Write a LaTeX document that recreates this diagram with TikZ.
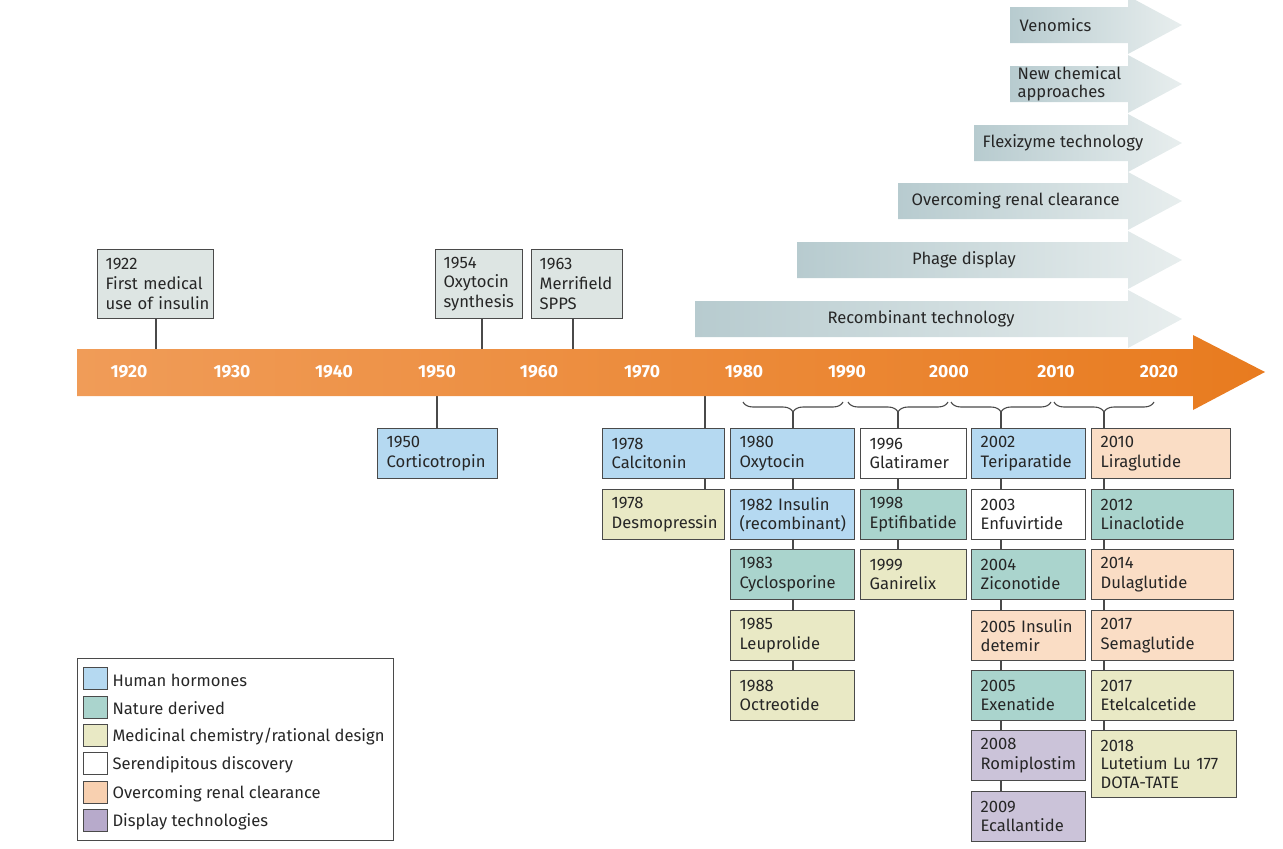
\documentclass[tikz,border=0pt]{standalone}
\usepackage{fontspec}
\setmainfont{Fira Sans}
\usetikzlibrary{decorations.pathreplacing,backgrounds}
\definecolor{hb}{HTML}{B5D9F1}
\definecolor{nd}{HTML}{AAD4CD}
\definecolor{mc}{HTML}{E9E9C5}
\definecolor{orc}{HTML}{FADDC5}
\definecolor{orcL}{HTML}{F8D0B0}
\definecolor{dt}{HTML}{CBC3D9}
\definecolor{dtL}{HTML}{B7AACB}
\definecolor{topbox}{HTML}{DDE5E3}
\definecolor{boxline}{HTML}{4A4A4A}
\definecolor{barL}{HTML}{F09C58}
\definecolor{barR}{HTML}{E87B1F}
\definecolor{tecL}{HTML}{B7CBCF}
\definecolor{tecR}{HTML}{E8EEEE}
\newcommand{\lbl}{\fontsize{16.6}{19.7}\selectfont}
\begin{document}
\begin{tikzpicture}[x=1pt,y=-1pt,
  bx/.style={draw=boxline, line width=1.2pt, anchor=north west, inner xsep=9pt, inner ysep=0pt,
    align=left, font=\lbl, minimum height=50pt, text=black!85},
  tw/.style={text width=#1},
  conn/.style={draw=boxline, line width=1.1pt},
  brc/.style={draw=boxline, line width=1.1pt, decorate, decoration={brace, mirror, amplitude=10pt}},
  yr/.style={text=white, font=\fontsize{17.5}{19}\selectfont\bfseries},
  tec/.style={font=\lbl, text=black!85, align=left},
  leg/.style={draw=boxline, line width=1.1pt, anchor=north west, minimum width=24pt, minimum height=22pt, inner sep=0pt},
  legt/.style={anchor=west, font=\lbl, text=black!85}
]
\useasboundingbox (0,0) rectangle (1283,849);

% technology arrows
\foreach \xl/\yc in {1010/25, 1010/84, 974/143, 898/201, 797/260, 695/319}{
  \shade[left color=tecL, right color=tecR]
    (\xl,\yc-18) -- (1128,\yc-18) -- (1128,\yc-29) -- (1182,\yc) -- (1128,\yc+29) -- (1128,\yc+18) -- (\xl,\yc+18) -- cycle;
}
\node[tec, anchor=west] (venom) at (1016,25) {Venomics};
\node[tec, anchor=west, font=\fontsize{16.6}{17.5}\selectfont] (newchem) at (1014,84) {New chemical\\approaches};
\node[tec, anchor=west] (flexi) at (979,143) {Flexizyme technology};
\node[tec, anchor=west] (renal) at (908,201) {Overcoming renal clearance};
\node[tec] (phage) at (964,260) {Phage display};
\node[tec] (recomb) at (921,319) {Recombinant technology};

% main timeline
\shade[left color=barL, right color=barR]
  (77,349) -- (1193,349) -- (1193,335) -- (1265,372) -- (1193,410) -- (1193,396) -- (77,396) -- cycle;
\coordinate (barT) at (0,349);
\coordinate (barB) at (0,396);
\foreach \yy/\xx in {1920/129,1930/232,1940/334,1950/437,1960/539,1970/642,1980/744,1990/847,2000/949,2010/1056,2020/1159}{
  \node[yr] (y\yy) at (\xx,372) {\yy};
}

% top boxes
\node[bx, fill=topbox, tw=100pt, inner xsep=8pt, minimum height=69pt] (t22) at (97,249) {1922\\First medical\\\mbox{use of insulin}};
\node[bx, fill=topbox, tw=71pt, inner xsep=8pt, minimum height=69pt] (t54) at (435,249) {1954\\Oxytocin\\\mbox{synthesis}};
\node[bx, fill=topbox, tw=75pt, inner xsep=8pt, minimum height=69pt] (t63) at (531,249) {1963\\Merrifield\\SPPS};
\coordinate (l22) at (156,349);
\coordinate (l54) at (482,349);
\coordinate (l63) at (573,349);
\draw[conn] (l22) -- (l22 |- t22.south);
\draw[conn] (l54) -- (l54 |- t54.south);
\draw[conn] (l63) -- (l63 |- t63.south);

% bottom boxes
\node[bx, fill=hb, tw=102pt] (b50) at (377,428) {1950\\Corticotropin};
\node[bx, fill=hb, tw=104pt] (b78a) at (602,428) {1978\\Calcitonin};
\node[bx, fill=mc, tw=104pt] (b78b) at (602,489) {1978\\Desmopressin};

\node[bx, fill=hb, tw=106pt] (b80) at (730,428) {1980\\Oxytocin};
\node[bx, fill=hb, tw=106pt] (b82) at (730,489) {1982 Insulin\\\mbox{(recombinant)}};
\node[bx, fill=nd, tw=106pt] (b83) at (730,549) {1983\\Cyclosporine};
\node[bx, fill=mc, tw=106pt] (b85) at (730,610) {1985\\Leuprolide};
\node[bx, fill=mc, tw=106pt] (b88) at (730,670) {1988\\Octreotide};

\node[bx, fill=white, tw=88pt] (b96) at (860,428) {1996\\Glatiramer};
\node[bx, fill=nd, tw=88pt] (b98) at (860,489) {1998\\\mbox{Eptifibatide}};
\node[bx, fill=mc, tw=88pt] (b99) at (860,549) {1999\\Ganirelix};

\node[bx, fill=hb, tw=96pt] (b02) at (971,428) {2002\\Teriparatide};
\node[bx, fill=white, tw=96pt] (b03) at (971,489) {2003\\Enfuvirtide};
\node[bx, fill=nd, tw=96pt] (b04) at (971,549) {2004\\Ziconotide};
\node[bx, fill=orc, tw=96pt] (b05a) at (971,610) {\mbox{2005 Insulin}\\detemir};
\node[bx, fill=nd, tw=96pt] (b05b) at (971,670) {2005\\Exenatide};
\node[bx, fill=dt, tw=96pt] (b08) at (971,730) {2008\\Romiplostim};
\node[bx, fill=dt, tw=96pt] (b09) at (971,791) {2009\\Ecallantide};

\node[bx, fill=orc, tw=121pt] (b10) at (1091,428) {2010\\Liraglutide};
\node[bx, fill=nd, tw=124pt] (b12) at (1091,489) {2012\\Linaclotide};
\node[bx, fill=orc, tw=124pt] (b14) at (1091,549) {2014\\Dulaglutide};
\node[bx, fill=orc, tw=124pt] (b17a) at (1091,610) {2017\\Semaglutide};
\node[bx, fill=mc, tw=124pt] (b17b) at (1091,670) {2017\\Etelcalcetide};
\node[bx, fill=mc, tw=127pt, minimum height=67pt, font=\fontsize{16.6}{18.5}\selectfont] (b18) at (1091,730) {2018\\\mbox{Lutetium Lu 177}\\DOTA-TATE};

% braces
\draw[brc] (743,402) -- (843,402);
\draw[brc] (848,402) -- (948,402);
\draw[brc] (951,402) -- (1051,402);
\draw[brc] (1054,402) -- (1154,402);
\coordinate (c80) at (793,412);
\coordinate (c90) at (898,412);
\coordinate (c00) at (1001,412);
\coordinate (c10) at (1104,412);
\coordinate (c50) at (437,396);
\coordinate (c78) at (705,396);

\begin{scope}[on background layer]
\draw[conn] (c50) -- (c50 |- b50.north);
\draw[conn] (c78) -- (c78 |- b78b.north);
\draw[conn] (c80) -- (c80 |- b88.north);
\draw[conn] (c90) -- (c90 |- b99.north);
\draw[conn] (c00) -- (c00 |- b09.north);
\draw[conn] (c10) -- (c10 |- b18.north);
\end{scope}

% legend
\node[draw=boxline, line width=1.1pt, anchor=north west, minimum width=316pt, minimum height=182pt, inner sep=0pt] (legend) at (77,658) {};
\node[leg, fill=hb] (s1) at (83,667) {};
\node[leg, fill=nd] (s2) at (83,696) {};
\node[leg, fill=mc] (s3) at (83,724) {};
\node[leg, fill=white] (s4) at (83,752) {};
\node[leg, fill=orcL] (s5) at (83,781) {};
\node[leg, fill=dtL] (s6) at (83,809) {};
\node[legt] (lt1) at (109,680) {Human hormones};
\node[legt] (lt2) at (109,708) {Nature derived};
\node[legt] (lt3) at (109,737) {Medicinal chemistry/rational design};
\node[legt] (lt4) at (109,765) {Serendipitous discovery};
\node[legt] (lt5) at (109,794) {Overcoming renal clearance};
\node[legt] (lt6) at (109,822) {Display technologies};
\end{tikzpicture}
\end{document}
